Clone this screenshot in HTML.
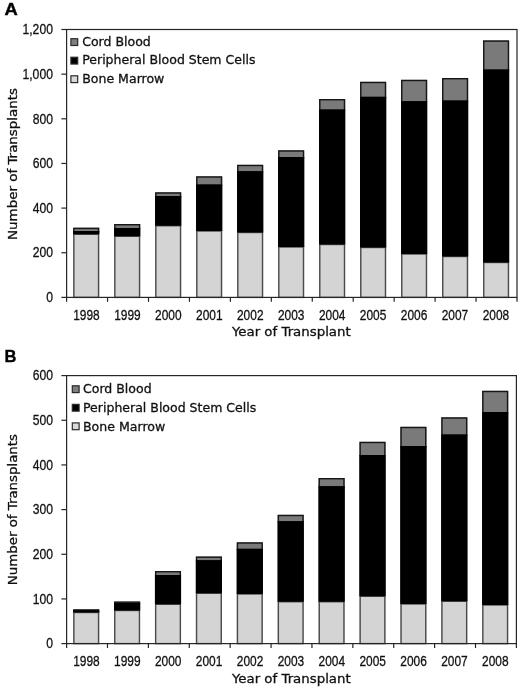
<!DOCTYPE html>
<html><head><meta charset="utf-8"><title>Figure</title>
<style>
html,body{margin:0;padding:0;background:#fff}
svg{display:block}
.num{font-family:"Liberation Sans",sans-serif;font-size:15.4px;fill:#111;stroke:#111;stroke-width:0.3px}
.lab{font-family:"DejaVu Sans","Liberation Sans",sans-serif;font-size:12.4px;fill:#111;stroke:#111;stroke-width:0.3px}
.ltr{font-family:"Liberation Sans",sans-serif;font-weight:bold;font-size:17px;fill:#000;stroke:#000;stroke-width:0.4px}
</style></head><body>
<svg width="520" height="689" viewBox="0 0 520 689">
<rect width="520" height="689" fill="#fff"/>
<line x1="61.39999999999999" y1="297.40" x2="66.6" y2="297.40" stroke="#262626" stroke-width="1.2"/>
<text class="num" text-anchor="end" transform="translate(52.9,302.10) scale(0.79,1)">0</text>
<line x1="61.39999999999999" y1="252.75" x2="66.6" y2="252.75" stroke="#262626" stroke-width="1.2"/>
<text class="num" text-anchor="end" transform="translate(52.9,257.45) scale(0.79,1)">200</text>
<line x1="61.39999999999999" y1="208.10" x2="66.6" y2="208.10" stroke="#262626" stroke-width="1.2"/>
<text class="num" text-anchor="end" transform="translate(52.9,212.80) scale(0.79,1)">400</text>
<line x1="61.39999999999999" y1="163.45" x2="66.6" y2="163.45" stroke="#262626" stroke-width="1.2"/>
<text class="num" text-anchor="end" transform="translate(52.9,168.15) scale(0.79,1)">600</text>
<line x1="61.39999999999999" y1="118.80" x2="66.6" y2="118.80" stroke="#262626" stroke-width="1.2"/>
<text class="num" text-anchor="end" transform="translate(52.9,123.50) scale(0.79,1)">800</text>
<line x1="61.39999999999999" y1="74.15" x2="66.6" y2="74.15" stroke="#262626" stroke-width="1.2"/>
<text class="num" text-anchor="end" transform="translate(52.9,78.85) scale(0.79,1)">1,000</text>
<line x1="61.39999999999999" y1="29.50" x2="66.6" y2="29.50" stroke="#262626" stroke-width="1.2"/>
<text class="num" text-anchor="end" transform="translate(52.9,34.20) scale(0.79,1)">1,200</text>
<line x1="66.60" y1="297.4" x2="66.60" y2="301.79999999999995" stroke="#262626" stroke-width="1.2"/>
<line x1="107.55" y1="297.4" x2="107.55" y2="301.79999999999995" stroke="#262626" stroke-width="1.2"/>
<line x1="148.49" y1="297.4" x2="148.49" y2="301.79999999999995" stroke="#262626" stroke-width="1.2"/>
<line x1="189.44" y1="297.4" x2="189.44" y2="301.79999999999995" stroke="#262626" stroke-width="1.2"/>
<line x1="230.38" y1="297.4" x2="230.38" y2="301.79999999999995" stroke="#262626" stroke-width="1.2"/>
<line x1="271.33" y1="297.4" x2="271.33" y2="301.79999999999995" stroke="#262626" stroke-width="1.2"/>
<line x1="312.27" y1="297.4" x2="312.27" y2="301.79999999999995" stroke="#262626" stroke-width="1.2"/>
<line x1="353.22" y1="297.4" x2="353.22" y2="301.79999999999995" stroke="#262626" stroke-width="1.2"/>
<line x1="394.16" y1="297.4" x2="394.16" y2="301.79999999999995" stroke="#262626" stroke-width="1.2"/>
<line x1="435.11" y1="297.4" x2="435.11" y2="301.79999999999995" stroke="#262626" stroke-width="1.2"/>
<line x1="476.05" y1="297.4" x2="476.05" y2="301.79999999999995" stroke="#262626" stroke-width="1.2"/>
<line x1="517.00" y1="297.4" x2="517.00" y2="301.79999999999995" stroke="#262626" stroke-width="1.2"/>
<rect x="73.15" y="234.25" width="26.10" height="63.15" fill="#d4d4d4"/>
<rect x="73.15" y="231.00" width="26.10" height="3.25" fill="#000"/>
<rect x="73.15" y="227.70" width="26.10" height="3.30" fill="#7a7a7a"/>
<rect x="73.85" y="234.25" width="24.70" height="63.15" fill="none" stroke="#4a4a4a" stroke-width="1.4"/>
<rect x="73.85" y="228.40" width="24.70" height="3.30" fill="none" stroke="#161616" stroke-width="1.4"/>
<rect x="73.15" y="231.00" width="26.10" height="3.25" fill="#000"/>
<text class="num" text-anchor="middle" transform="translate(86.47,320.00) scale(0.775,1)">1998</text>
<rect x="114.14" y="236.25" width="26.10" height="61.15" fill="#d4d4d4"/>
<rect x="114.14" y="228.00" width="26.10" height="8.25" fill="#000"/>
<rect x="114.14" y="224.00" width="26.10" height="4.00" fill="#7a7a7a"/>
<rect x="114.84" y="236.25" width="24.70" height="61.15" fill="none" stroke="#4a4a4a" stroke-width="1.4"/>
<rect x="114.84" y="224.70" width="24.70" height="4.00" fill="none" stroke="#161616" stroke-width="1.4"/>
<rect x="114.14" y="228.00" width="26.10" height="8.25" fill="#000"/>
<text class="num" text-anchor="middle" transform="translate(127.42,320.00) scale(0.775,1)">1999</text>
<rect x="155.13" y="225.75" width="26.10" height="71.65" fill="#d4d4d4"/>
<rect x="155.13" y="196.00" width="26.10" height="29.75" fill="#000"/>
<rect x="155.13" y="192.30" width="26.10" height="3.70" fill="#7a7a7a"/>
<rect x="155.83" y="225.75" width="24.70" height="71.65" fill="none" stroke="#4a4a4a" stroke-width="1.4"/>
<rect x="155.83" y="193.00" width="24.70" height="3.70" fill="none" stroke="#161616" stroke-width="1.4"/>
<rect x="155.13" y="196.00" width="26.10" height="29.75" fill="#000"/>
<text class="num" text-anchor="middle" transform="translate(168.36,320.00) scale(0.775,1)">2000</text>
<rect x="196.12" y="231.00" width="26.10" height="66.40" fill="#d4d4d4"/>
<rect x="196.12" y="184.50" width="26.10" height="46.50" fill="#000"/>
<rect x="196.12" y="176.30" width="26.10" height="8.20" fill="#7a7a7a"/>
<rect x="196.82" y="231.00" width="24.70" height="66.40" fill="none" stroke="#4a4a4a" stroke-width="1.4"/>
<rect x="196.82" y="177.00" width="24.70" height="8.20" fill="none" stroke="#161616" stroke-width="1.4"/>
<rect x="196.12" y="184.50" width="26.10" height="46.50" fill="#000"/>
<text class="num" text-anchor="middle" transform="translate(209.31,320.00) scale(0.775,1)">2001</text>
<rect x="237.11" y="232.50" width="26.10" height="64.90" fill="#d4d4d4"/>
<rect x="237.11" y="171.25" width="26.10" height="61.25" fill="#000"/>
<rect x="237.11" y="164.80" width="26.10" height="6.45" fill="#7a7a7a"/>
<rect x="237.81" y="232.50" width="24.70" height="64.90" fill="none" stroke="#4a4a4a" stroke-width="1.4"/>
<rect x="237.81" y="165.50" width="24.70" height="6.45" fill="none" stroke="#161616" stroke-width="1.4"/>
<rect x="237.11" y="171.25" width="26.10" height="61.25" fill="#000"/>
<text class="num" text-anchor="middle" transform="translate(250.25,320.00) scale(0.775,1)">2002</text>
<rect x="278.10" y="247.00" width="26.10" height="50.40" fill="#d4d4d4"/>
<rect x="278.10" y="157.00" width="26.10" height="90.00" fill="#000"/>
<rect x="278.10" y="150.30" width="26.10" height="6.70" fill="#7a7a7a"/>
<rect x="278.80" y="247.00" width="24.70" height="50.40" fill="none" stroke="#4a4a4a" stroke-width="1.4"/>
<rect x="278.80" y="151.00" width="24.70" height="6.70" fill="none" stroke="#161616" stroke-width="1.4"/>
<rect x="278.10" y="157.00" width="26.10" height="90.00" fill="#000"/>
<text class="num" text-anchor="middle" transform="translate(291.20,320.00) scale(0.775,1)">2003</text>
<rect x="319.09" y="244.50" width="26.10" height="52.90" fill="#d4d4d4"/>
<rect x="319.09" y="109.50" width="26.10" height="135.00" fill="#000"/>
<rect x="319.09" y="99.00" width="26.10" height="10.50" fill="#7a7a7a"/>
<rect x="319.79" y="244.50" width="24.70" height="52.90" fill="none" stroke="#4a4a4a" stroke-width="1.4"/>
<rect x="319.79" y="99.70" width="24.70" height="10.50" fill="none" stroke="#161616" stroke-width="1.4"/>
<rect x="319.09" y="109.50" width="26.10" height="135.00" fill="#000"/>
<text class="num" text-anchor="middle" transform="translate(332.15,320.00) scale(0.775,1)">2004</text>
<rect x="360.08" y="247.50" width="26.10" height="49.90" fill="#d4d4d4"/>
<rect x="360.08" y="96.75" width="26.10" height="150.75" fill="#000"/>
<rect x="360.08" y="81.80" width="26.10" height="14.95" fill="#7a7a7a"/>
<rect x="360.78" y="247.50" width="24.70" height="49.90" fill="none" stroke="#4a4a4a" stroke-width="1.4"/>
<rect x="360.78" y="82.50" width="24.70" height="14.95" fill="none" stroke="#161616" stroke-width="1.4"/>
<rect x="360.08" y="96.75" width="26.10" height="150.75" fill="#000"/>
<text class="num" text-anchor="middle" transform="translate(373.09,320.00) scale(0.775,1)">2005</text>
<rect x="401.07" y="254.00" width="26.10" height="43.40" fill="#d4d4d4"/>
<rect x="401.07" y="101.25" width="26.10" height="152.75" fill="#000"/>
<rect x="401.07" y="79.80" width="26.10" height="21.45" fill="#7a7a7a"/>
<rect x="401.77" y="254.00" width="24.70" height="43.40" fill="none" stroke="#4a4a4a" stroke-width="1.4"/>
<rect x="401.77" y="80.50" width="24.70" height="21.45" fill="none" stroke="#161616" stroke-width="1.4"/>
<rect x="401.07" y="101.25" width="26.10" height="152.75" fill="#000"/>
<text class="num" text-anchor="middle" transform="translate(414.04,320.00) scale(0.775,1)">2006</text>
<rect x="442.06" y="256.50" width="26.10" height="40.90" fill="#d4d4d4"/>
<rect x="442.06" y="100.50" width="26.10" height="156.00" fill="#000"/>
<rect x="442.06" y="78.00" width="26.10" height="22.50" fill="#7a7a7a"/>
<rect x="442.76" y="256.50" width="24.70" height="40.90" fill="none" stroke="#4a4a4a" stroke-width="1.4"/>
<rect x="442.76" y="78.70" width="24.70" height="22.50" fill="none" stroke="#161616" stroke-width="1.4"/>
<rect x="442.06" y="100.50" width="26.10" height="156.00" fill="#000"/>
<text class="num" text-anchor="middle" transform="translate(454.98,320.00) scale(0.775,1)">2007</text>
<rect x="483.05" y="262.50" width="26.10" height="34.90" fill="#d4d4d4"/>
<rect x="483.05" y="69.50" width="26.10" height="193.00" fill="#000"/>
<rect x="483.05" y="40.40" width="26.10" height="29.10" fill="#7a7a7a"/>
<rect x="483.75" y="262.50" width="24.70" height="34.90" fill="none" stroke="#4a4a4a" stroke-width="1.4"/>
<rect x="483.75" y="41.10" width="24.70" height="29.10" fill="none" stroke="#161616" stroke-width="1.4"/>
<rect x="483.05" y="69.50" width="26.10" height="193.00" fill="#000"/>
<text class="num" text-anchor="middle" transform="translate(495.93,320.00) scale(0.775,1)">2008</text>
<rect x="66.6" y="29.5" width="450.40" height="267.90" fill="none" stroke="#262626" stroke-width="1.2"/>
<rect x="70.90" y="38.70" width="6.8" height="6.8" fill="#7f7f7f" stroke="#2a2a2a" stroke-width="1.2"/>
<text class="lab" x="82.20" y="45.90" textLength="68.6" lengthAdjust="spacingAndGlyphs">Cord Blood</text>
<rect x="70.90" y="57.25" width="6.8" height="6.8" fill="#000" stroke="#2a2a2a" stroke-width="1.2"/>
<text class="lab" x="82.20" y="64.45" textLength="173.3" lengthAdjust="spacingAndGlyphs">Peripheral Blood Stem Cells</text>
<rect x="70.90" y="75.80" width="6.8" height="6.8" fill="#d9d9d9" stroke="#2a2a2a" stroke-width="1.2"/>
<text class="lab" x="82.20" y="83.00" textLength="82.2" lengthAdjust="spacingAndGlyphs">Bone Marrow</text>
<text class="lab" x="231.9" y="336.20" textLength="118.8" lengthAdjust="spacingAndGlyphs">Year of Transplant</text>
<text class="lab" transform="translate(16.7,239.95) rotate(-90)" textLength="152.0" lengthAdjust="spacingAndGlyphs">Number of Transplants</text>
<text class="ltr" transform="translate(4.6,15.2) scale(1.08,1)">A</text>
<line x1="61.39999999999999" y1="643.60" x2="66.6" y2="643.60" stroke="#262626" stroke-width="1.2"/>
<text class="num" text-anchor="end" transform="translate(52.9,648.30) scale(0.79,1)">0</text>
<line x1="61.39999999999999" y1="598.93" x2="66.6" y2="598.93" stroke="#262626" stroke-width="1.2"/>
<text class="num" text-anchor="end" transform="translate(52.9,603.63) scale(0.79,1)">100</text>
<line x1="61.39999999999999" y1="554.27" x2="66.6" y2="554.27" stroke="#262626" stroke-width="1.2"/>
<text class="num" text-anchor="end" transform="translate(52.9,558.97) scale(0.79,1)">200</text>
<line x1="61.39999999999999" y1="509.60" x2="66.6" y2="509.60" stroke="#262626" stroke-width="1.2"/>
<text class="num" text-anchor="end" transform="translate(52.9,514.30) scale(0.79,1)">300</text>
<line x1="61.39999999999999" y1="464.93" x2="66.6" y2="464.93" stroke="#262626" stroke-width="1.2"/>
<text class="num" text-anchor="end" transform="translate(52.9,469.63) scale(0.79,1)">400</text>
<line x1="61.39999999999999" y1="420.27" x2="66.6" y2="420.27" stroke="#262626" stroke-width="1.2"/>
<text class="num" text-anchor="end" transform="translate(52.9,424.97) scale(0.79,1)">500</text>
<line x1="61.39999999999999" y1="375.60" x2="66.6" y2="375.60" stroke="#262626" stroke-width="1.2"/>
<text class="num" text-anchor="end" transform="translate(52.9,380.30) scale(0.79,1)">600</text>
<line x1="66.60" y1="643.6" x2="66.60" y2="648.0" stroke="#262626" stroke-width="1.2"/>
<line x1="107.49" y1="643.6" x2="107.49" y2="648.0" stroke="#262626" stroke-width="1.2"/>
<line x1="148.38" y1="643.6" x2="148.38" y2="648.0" stroke="#262626" stroke-width="1.2"/>
<line x1="189.27" y1="643.6" x2="189.27" y2="648.0" stroke="#262626" stroke-width="1.2"/>
<line x1="230.16" y1="643.6" x2="230.16" y2="648.0" stroke="#262626" stroke-width="1.2"/>
<line x1="271.05" y1="643.6" x2="271.05" y2="648.0" stroke="#262626" stroke-width="1.2"/>
<line x1="311.95" y1="643.6" x2="311.95" y2="648.0" stroke="#262626" stroke-width="1.2"/>
<line x1="352.84" y1="643.6" x2="352.84" y2="648.0" stroke="#262626" stroke-width="1.2"/>
<line x1="393.73" y1="643.6" x2="393.73" y2="648.0" stroke="#262626" stroke-width="1.2"/>
<line x1="434.62" y1="643.6" x2="434.62" y2="648.0" stroke="#262626" stroke-width="1.2"/>
<line x1="475.51" y1="643.6" x2="475.51" y2="648.0" stroke="#262626" stroke-width="1.2"/>
<line x1="516.40" y1="643.6" x2="516.40" y2="648.0" stroke="#262626" stroke-width="1.2"/>
<rect x="73.15" y="612.50" width="26.10" height="31.10" fill="#d4d4d4"/>
<rect x="73.15" y="610.40" width="26.10" height="2.10" fill="#000"/>
<rect x="73.15" y="609.30" width="26.10" height="1.10" fill="#7a7a7a"/>
<rect x="73.85" y="612.50" width="24.70" height="31.10" fill="none" stroke="#4a4a4a" stroke-width="1.4"/>
<rect x="73.85" y="610.00" width="24.70" height="1.10" fill="none" stroke="#161616" stroke-width="1.4"/>
<rect x="73.15" y="610.40" width="26.10" height="2.10" fill="#000"/>
<text class="num" text-anchor="middle" transform="translate(86.45,666.20) scale(0.775,1)">1998</text>
<rect x="114.05" y="610.50" width="26.10" height="33.10" fill="#d4d4d4"/>
<rect x="114.05" y="603.00" width="26.10" height="7.50" fill="#000"/>
<rect x="114.05" y="601.50" width="26.10" height="1.50" fill="#7a7a7a"/>
<rect x="114.75" y="610.50" width="24.70" height="33.10" fill="none" stroke="#4a4a4a" stroke-width="1.4"/>
<rect x="114.75" y="602.20" width="24.70" height="1.50" fill="none" stroke="#161616" stroke-width="1.4"/>
<rect x="114.05" y="603.00" width="26.10" height="7.50" fill="#000"/>
<text class="num" text-anchor="middle" transform="translate(127.34,666.20) scale(0.775,1)">1999</text>
<rect x="154.95" y="604.25" width="26.10" height="39.35" fill="#d4d4d4"/>
<rect x="154.95" y="575.00" width="26.10" height="29.25" fill="#000"/>
<rect x="154.95" y="571.00" width="26.10" height="4.00" fill="#7a7a7a"/>
<rect x="155.65" y="604.25" width="24.70" height="39.35" fill="none" stroke="#4a4a4a" stroke-width="1.4"/>
<rect x="155.65" y="571.70" width="24.70" height="4.00" fill="none" stroke="#161616" stroke-width="1.4"/>
<rect x="154.95" y="575.00" width="26.10" height="29.25" fill="#000"/>
<text class="num" text-anchor="middle" transform="translate(168.23,666.20) scale(0.775,1)">2000</text>
<rect x="195.85" y="593.25" width="26.10" height="50.35" fill="#d4d4d4"/>
<rect x="195.85" y="560.25" width="26.10" height="33.00" fill="#000"/>
<rect x="195.85" y="556.50" width="26.10" height="3.75" fill="#7a7a7a"/>
<rect x="196.55" y="593.25" width="24.70" height="50.35" fill="none" stroke="#4a4a4a" stroke-width="1.4"/>
<rect x="196.55" y="557.20" width="24.70" height="3.75" fill="none" stroke="#161616" stroke-width="1.4"/>
<rect x="195.85" y="560.25" width="26.10" height="33.00" fill="#000"/>
<text class="num" text-anchor="middle" transform="translate(209.12,666.20) scale(0.775,1)">2001</text>
<rect x="236.75" y="594.00" width="26.10" height="49.60" fill="#d4d4d4"/>
<rect x="236.75" y="548.75" width="26.10" height="45.25" fill="#000"/>
<rect x="236.75" y="542.30" width="26.10" height="6.45" fill="#7a7a7a"/>
<rect x="237.45" y="594.00" width="24.70" height="49.60" fill="none" stroke="#4a4a4a" stroke-width="1.4"/>
<rect x="237.45" y="543.00" width="24.70" height="6.45" fill="none" stroke="#161616" stroke-width="1.4"/>
<rect x="236.75" y="548.75" width="26.10" height="45.25" fill="#000"/>
<text class="num" text-anchor="middle" transform="translate(250.01,666.20) scale(0.775,1)">2002</text>
<rect x="277.65" y="601.75" width="26.10" height="41.85" fill="#d4d4d4"/>
<rect x="277.65" y="521.25" width="26.10" height="80.50" fill="#000"/>
<rect x="277.65" y="514.80" width="26.10" height="6.45" fill="#7a7a7a"/>
<rect x="278.35" y="601.75" width="24.70" height="41.85" fill="none" stroke="#4a4a4a" stroke-width="1.4"/>
<rect x="278.35" y="515.50" width="24.70" height="6.45" fill="none" stroke="#161616" stroke-width="1.4"/>
<rect x="277.65" y="521.25" width="26.10" height="80.50" fill="#000"/>
<text class="num" text-anchor="middle" transform="translate(290.90,666.20) scale(0.775,1)">2003</text>
<rect x="318.55" y="601.75" width="26.10" height="41.85" fill="#d4d4d4"/>
<rect x="318.55" y="486.25" width="26.10" height="115.50" fill="#000"/>
<rect x="318.55" y="478.00" width="26.10" height="8.25" fill="#7a7a7a"/>
<rect x="319.25" y="601.75" width="24.70" height="41.85" fill="none" stroke="#4a4a4a" stroke-width="1.4"/>
<rect x="319.25" y="478.70" width="24.70" height="8.25" fill="none" stroke="#161616" stroke-width="1.4"/>
<rect x="318.55" y="486.25" width="26.10" height="115.50" fill="#000"/>
<text class="num" text-anchor="middle" transform="translate(331.79,666.20) scale(0.775,1)">2004</text>
<rect x="359.45" y="596.25" width="26.10" height="47.35" fill="#d4d4d4"/>
<rect x="359.45" y="455.00" width="26.10" height="141.25" fill="#000"/>
<rect x="359.45" y="441.80" width="26.10" height="13.20" fill="#7a7a7a"/>
<rect x="360.15" y="596.25" width="24.70" height="47.35" fill="none" stroke="#4a4a4a" stroke-width="1.4"/>
<rect x="360.15" y="442.50" width="24.70" height="13.20" fill="none" stroke="#161616" stroke-width="1.4"/>
<rect x="359.45" y="455.00" width="26.10" height="141.25" fill="#000"/>
<text class="num" text-anchor="middle" transform="translate(372.68,666.20) scale(0.775,1)">2005</text>
<rect x="400.35" y="604.00" width="26.10" height="39.60" fill="#d4d4d4"/>
<rect x="400.35" y="446.00" width="26.10" height="158.00" fill="#000"/>
<rect x="400.35" y="426.80" width="26.10" height="19.20" fill="#7a7a7a"/>
<rect x="401.05" y="604.00" width="24.70" height="39.60" fill="none" stroke="#4a4a4a" stroke-width="1.4"/>
<rect x="401.05" y="427.50" width="24.70" height="19.20" fill="none" stroke="#161616" stroke-width="1.4"/>
<rect x="400.35" y="446.00" width="26.10" height="158.00" fill="#000"/>
<text class="num" text-anchor="middle" transform="translate(413.57,666.20) scale(0.775,1)">2006</text>
<rect x="441.25" y="601.25" width="26.10" height="42.35" fill="#d4d4d4"/>
<rect x="441.25" y="434.50" width="26.10" height="166.75" fill="#000"/>
<rect x="441.25" y="417.30" width="26.10" height="17.20" fill="#7a7a7a"/>
<rect x="441.95" y="601.25" width="24.70" height="42.35" fill="none" stroke="#4a4a4a" stroke-width="1.4"/>
<rect x="441.95" y="418.00" width="24.70" height="17.20" fill="none" stroke="#161616" stroke-width="1.4"/>
<rect x="441.25" y="434.50" width="26.10" height="166.75" fill="#000"/>
<text class="num" text-anchor="middle" transform="translate(454.46,666.20) scale(0.775,1)">2007</text>
<rect x="482.15" y="605.00" width="26.10" height="38.60" fill="#d4d4d4"/>
<rect x="482.15" y="412.00" width="26.10" height="193.00" fill="#000"/>
<rect x="482.15" y="390.80" width="26.10" height="21.20" fill="#7a7a7a"/>
<rect x="482.85" y="605.00" width="24.70" height="38.60" fill="none" stroke="#4a4a4a" stroke-width="1.4"/>
<rect x="482.85" y="391.50" width="24.70" height="21.20" fill="none" stroke="#161616" stroke-width="1.4"/>
<rect x="482.15" y="412.00" width="26.10" height="193.00" fill="#000"/>
<text class="num" text-anchor="middle" transform="translate(495.35,666.20) scale(0.775,1)">2008</text>
<rect x="66.6" y="375.6" width="449.80" height="268.00" fill="none" stroke="#262626" stroke-width="1.2"/>
<rect x="72.30" y="385.80" width="6.8" height="6.8" fill="#7f7f7f" stroke="#2a2a2a" stroke-width="1.2"/>
<text class="lab" x="83.00" y="393.40" textLength="68.6" lengthAdjust="spacingAndGlyphs">Cord Blood</text>
<rect x="72.30" y="404.35" width="6.8" height="6.8" fill="#000" stroke="#2a2a2a" stroke-width="1.2"/>
<text class="lab" x="83.00" y="411.95" textLength="173.3" lengthAdjust="spacingAndGlyphs">Peripheral Blood Stem Cells</text>
<rect x="72.30" y="422.90" width="6.8" height="6.8" fill="#d9d9d9" stroke="#2a2a2a" stroke-width="1.2"/>
<text class="lab" x="83.00" y="430.50" textLength="82.2" lengthAdjust="spacingAndGlyphs">Bone Marrow</text>
<text class="lab" x="231.9" y="683.00" textLength="118.8" lengthAdjust="spacingAndGlyphs">Year of Transplant</text>
<text class="lab" transform="translate(16.7,585.20) rotate(-90)" textLength="151.2" lengthAdjust="spacingAndGlyphs">Number of Transplants</text>
<text class="ltr" transform="translate(4.6,362.2) scale(0.97,1)">B</text>
</svg>
</body></html>
